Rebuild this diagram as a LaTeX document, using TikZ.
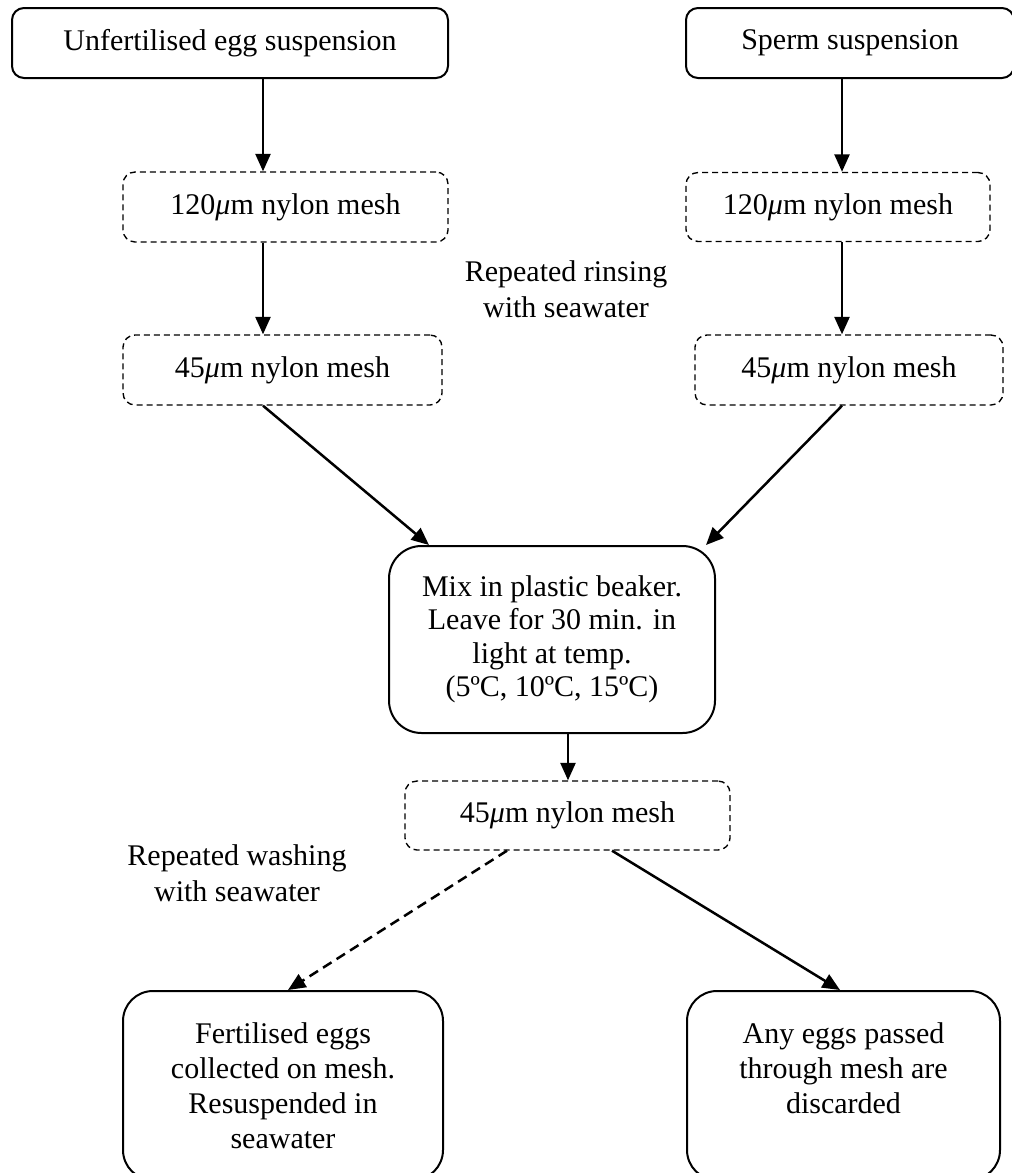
\documentclass[tikz,border=0pt]{standalone}
\usepackage{fontspec}
\setmainfont{Liberation Serif}
\usetikzlibrary{arrows.meta}
\newcommand{\mufoo}{{\itshape μ}}
\begin{document}
\begin{tikzpicture}[x=0.4pt,y=-0.4pt,
  bs/.style 2 args={minimum width=#1*0.4pt, minimum height=#2*0.4pt},
  basebox/.style={inner sep=0pt, align=center, font=\fontsize{12}{14}\selectfont},
  solidbox/.style={basebox, draw, line width=0.8pt, rounded corners=4.8pt},
  bigbox/.style={basebox, draw, line width=0.8pt, rounded corners=13pt},
  dashbox/.style={basebox, draw, line width=0.55pt, dash pattern=on 2.4pt off 1.6pt, rounded corners=4.8pt},
  lbl/.style={inner sep=0pt, align=center, font=\fontsize{12}{14.5}\selectfont},
  arr/.style={-{Triangle[length=7pt,width=6pt]}, line width=1pt},
  darr/.style={arr, dash pattern=on 4pt off 2.4pt}]
\useasboundingbox (0,0) rectangle (1012,1173);
% nodes
\node[solidbox, bs={436}{70}] (A) at (230,43) {Unfertilised egg suspension};
\node[solidbox, bs={328}{70}] (B) at (850,43) {Sperm suspension};
\node[dashbox, bs={325}{70}] (A1) at (285.5,207) {120\mufoo m nylon mesh};
\node[dashbox, bs={304}{69}] (B1) at (838,207) {120\mufoo m nylon mesh};
\node[dashbox, bs={319}{70}] (A2) at (282.5,370) {45\mufoo m nylon mesh};
\node[dashbox, bs={308}{70}] (B2) at (849,370) {45\mufoo m nylon mesh};
\node[lbl] (rinse) at (566,289) {Repeated rinsing\\with seawater};
\node[bigbox, font=\fontsize{12}{13.4}\selectfont, bs={326}{187}] (M) at (552,639.5) {Mix in plastic beaker.\\Leave for 30 min. in\\light at temp.\\(5ºC, 10ºC, 15ºC)};
\node[dashbox, bs={325}{69}] (C) at (567.5,815.5) {45\mufoo m nylon mesh};
\node[lbl] (wash) at (237,873) {Repeated washing\\with seawater};
\node[bigbox, rounded corners=12pt, bs={320}{189}] (L) at (283,1085.5) {Fertilised eggs\\collected on mesh.\\Resuspended in\\seawater};
\node[bigbox, rounded corners=12pt, bs={313}{189}] (R) at (843.5,1085.5) {Any eggs passed\\through mesh are\\discarded\\\mbox{}};
% connector x positions
\coordinate (xa) at (263,0);
\coordinate (xb) at (842,0);
\coordinate (mL) at (429,0);
\coordinate (mR) at (706,0);
\coordinate (xc) at (568,0);
\coordinate (cl) at (507,0);
\coordinate (ll) at (288,0);
\coordinate (cr) at (612,0);
\coordinate (rr) at (840,0);
% connectors
\draw[arr] (A.south -| xa) -- (A1.north -| xa);
\draw[arr] (A1.south -| xa) -- (A2.north -| xa);
\draw[arr] (B.south -| xb) -- (B1.north -| xb);
\draw[arr] (B1.south -| xb) -- (B2.north -| xb);
\draw[arr] (A2.south -| xa) -- (M.north -| mL);
\draw[arr] (B2.south -| xb) -- (M.north -| mR);
\draw[arr] (M.south -| xc) -- (C.north -| xc);
\draw[darr] (C.south -| cl) -- (L.north -| ll);
\draw[arr] (C.south -| cr) -- (R.north -| rr);
\end{tikzpicture}
\end{document}
